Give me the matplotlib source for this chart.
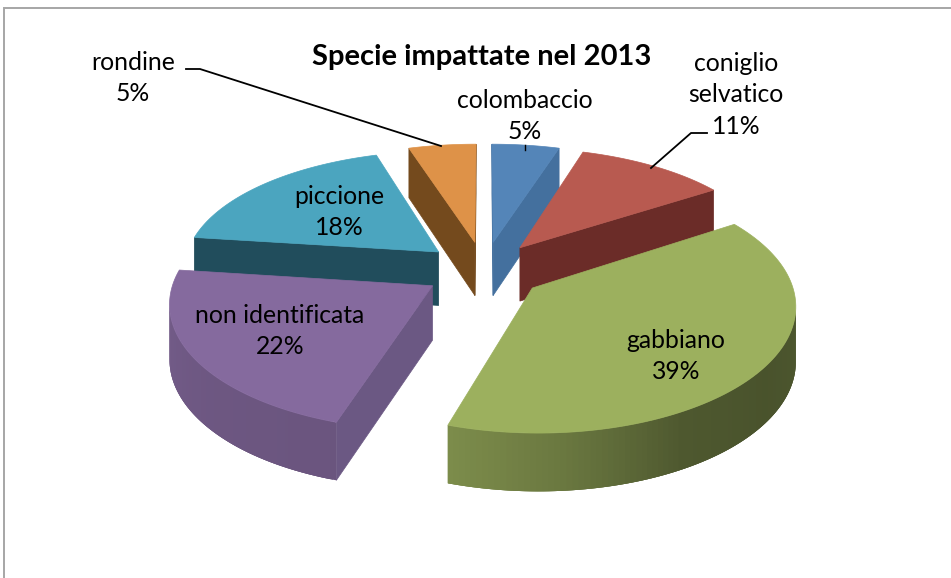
import numpy as np
import matplotlib
matplotlib.use('Agg')
import matplotlib.pyplot as plt
from matplotlib.colors import to_rgb

plt.rcParams['font.family'] = ['Lato', 'DejaVu Sans']

# Data
labels = ['colombaccio', 'coniglio\nselvatico', 'gabbiano', 'non identificata', 'piccione', 'rondine']
values = [5, 11, 39, 22, 18, 5]

# Colours of each slice: top, cut side
top_colors = ['#5485B8', '#B85A50', '#9CB05E', '#856A9E', '#4BA5BF', '#DE9248']
cut_colors = ['#44709E', '#6B2C28', '#6B7A3F', '#6B5883', '#214D5C', '#744A1D']

# Pie geometry, in pixels of the picture
CX, CY = 484, 270
RADIUS = 256
EXPLODE = 60
TILT = 0.481
PERSP_X = 0.0005
PERSP_Y = 0.00054
DEPTH = 54


def project(x, y, z=0.0):
    sx = CX + x * (1 + PERSP_X * y)
    sy = CY + TILT * y * (1 + PERSP_Y * y) + z * (1 + PERSP_Y * y * 0.5)
    return sx, sy


def outer_shade(theta):
    # the outer wall gets darker towards the right, lighter to the left
    return np.interp(np.degrees(theta), [90, 125, 150, 175, 198, 230, 277],
                     [0.50, 0.47, 0.50, 0.68, 0.80, 0.82, 0.88])


def dark(color, f):
    return tuple(c * f for c in to_rgb(color))


fig = plt.figure(figsize=(9.51, 5.78), dpi=100)
ax = fig.add_axes([0, 0, 1, 1])
ax.set_xlim(0, 951)
ax.set_ylim(578, 0)
ax.axis('off')

# Frame of the chart, only top and left show
ax.plot([951, 3.5, 3.5], [7.5, 7.5, 578], color='#A6A6A6', lw=1.4, solid_joinstyle='miter')

fractions = np.array(values) / sum(values)
edges = np.concatenate([[0], np.cumsum(fractions)]) * 2 * np.pi

# Painter's order, from the back slices to the front ones
order = [5, 0, 4, 1, 3, 2]

for rank, i in enumerate(order):
    z = 2 + rank
    t0, t1 = edges[i], edges[i + 1]
    mid = (t0 + t1) / 2
    ox = EXPLODE * np.sin(mid)
    oy = -EXPLODE * np.cos(mid)
    theta = np.linspace(t0, t1, 120)
    ax_x = ox + RADIUS * np.sin(theta)
    ax_y = oy - RADIUS * np.cos(theta)

    apex_top = project(ox, oy)
    apex_bot = project(ox, oy, DEPTH)
    arc_top = np.array([project(a, b) for a, b in zip(ax_x, ax_y)])
    arc_bot = np.array([project(a, b, DEPTH) for a, b in zip(ax_x, ax_y)])
    arc_mid = arc_top[60]

    # Flat cut sides, drawn only if they face the viewer
    for tip_top, tip_bot in [(arc_top[0], arc_bot[0]), (arc_top[-1], arc_bot[-1])]:
        ex, ey = tip_top[0] - apex_top[0], tip_top[1] - apex_top[1]
        side_down = ex * DEPTH
        side_mid = ex * (arc_mid[1] - apex_top[1]) - ey * (arc_mid[0] - apex_top[0])
        if side_down * side_mid < 0:
            ax.fill([apex_top[0], tip_top[0], tip_bot[0], apex_bot[0]],
                    [apex_top[1], tip_top[1], tip_bot[1], apex_bot[1]],
                    color=cut_colors[i], lw=0.5, zorder=z)

    # Outer wall, as strips that overlap so no seams show between them
    for j in range(len(theta) - 1):
        if arc_top[j + 1][0] < arc_top[j][0]:
            k = min(j + 3, len(theta) - 1)
            shade = dark(top_colors[i], outer_shade((theta[j] + theta[j + 1]) / 2))
            ax.fill(np.r_[arc_top[j:k + 1, 0], arc_bot[j:k + 1, 0][::-1]],
                    np.r_[arc_top[j:k + 1, 1], arc_bot[j:k + 1, 1][::-1]],
                    color=shade, lw=0, zorder=z)

    ax.fill(np.r_[apex_top[0], arc_top[:, 0]], np.r_[apex_top[1], arc_top[:, 1]],
            color=top_colors[i], lw=0.5, zorder=z)

# Leader lines
ax.plot([186, 200, 441], [69, 69, 146], color='black', lw=1.3, zorder=20)
ax.plot([707, 691, 651], [133, 133, 168], color='black', lw=1.3, zorder=20)
ax.plot([525, 525], [145, 150], color='black', lw=1.0, zorder=20)

# Text
ax.text(482, 57.5, 'Specie impattate nel 2013', ha='center', va='center',
        fontsize=21, fontweight='bold', color='black', zorder=21)

label_pos = [(525, 116), (736, 95), (676, 356), (280, 331), (339, 212), (133, 78)]
for name, val, pos in zip(labels, values, label_pos):
    ax.text(pos[0], pos[1], name + '\n' + str(val) + '%', ha='center', va='center',
            fontsize=17.8, linespacing=1.45, color='black', zorder=21)

fig.savefig('out.png', dpi=100)
